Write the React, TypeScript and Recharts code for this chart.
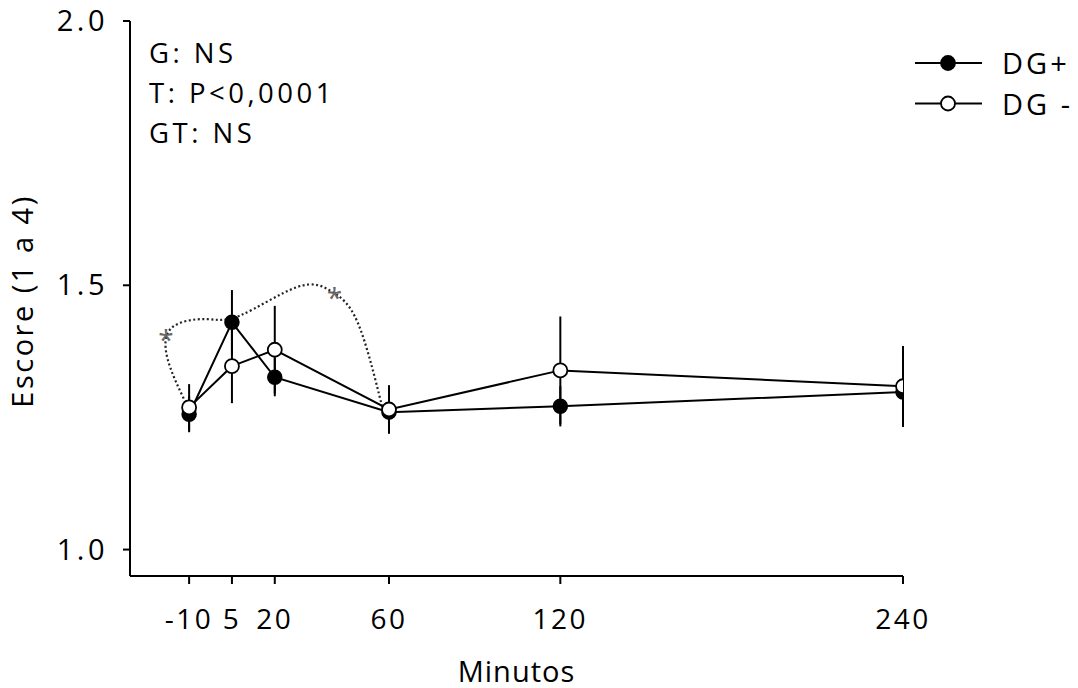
import React from 'react';
import {
  ComposedChart,
  Line,
  XAxis,
  YAxis,
  ErrorBar,
  ReferenceDot,
  Legend,
  Customized,
} from 'recharts';

// Sampling times (minutes) and mean scores with their standard errors
const minutes = [-10, 5, 20, 60, 120, 240];
const dgPlus = [1.256, 1.43, 1.326, 1.26, 1.271, 1.298];
const dgPlusErr = [0.034, 0.061, 0.036, 0.035, 0.038, 0.066];
const dgMinus = [1.269, 1.347, 1.378, 1.265, 1.339, 1.309];
const dgMinusErr = [0.044, 0.07, 0.083, 0.046, 0.102, 0.076];

// Axis ticks
const xTicks = [-10, 5, 20, 60, 120, 240];
const yTicks = [1.0, 1.5, 2.0];

// Dotted bracket joining the significant time points
const bracketX = [-11.2, -17.5, -16, -4, 8, 28, 40, 49, 57.8];
const bracketY = [1.278, 1.36, 1.42, 1.436, 1.443, 1.497, 1.488, 1.43, 1.266];

// Asterisks marking the significant differences
const starX = [-18.1, 40.9];
const starY = [1.41, 1.489];

// Statistics summary
const statsLines = ['G: NS', 'T: P<0,0001', 'GT: NS'];

const seriesOrder = ['dgPlus', 'dgMinus'];
const seriesNames: Record<string, string> = { dgPlus: 'DG+', dgMinus: 'DG -' };

const rows = minutes.map((m, i) => ({
  x: m,
  dgPlus: dgPlus[i],
  dgPlusErr: dgPlusErr[i],
  dgMinus: dgMinus[i],
  dgMinusErr: dgMinusErr[i],
}));

const bracket = bracketX.map((x, i) => ({ x, y: bracketY[i] }));

const FONT = '"Open Sans", "DejaVu Sans", sans-serif';

const XTick = (props: any) => {
  const { x, y, payload } = props;
  return (
    <text x={x} y={y + 45} textAnchor="middle" fontFamily={FONT} fontSize={28} letterSpacing={2.5} fill="#000">
      {payload.value}
    </text>
  );
};

const YTick = (props: any) => {
  const { x, y, payload } = props;
  return (
    <text x={x} y={y + 10} textAnchor="end" fontFamily={FONT} fontSize={29} letterSpacing={3.5} fill="#000">
      {Number(payload.value).toFixed(1)}
    </text>
  );
};

const FilledDot = (props: any) => {
  const { cx, cy } = props;
  if (cx == null || cy == null) return null;
  return <circle cx={cx} cy={cy} r={7} fill="#000" stroke="#000" strokeWidth={1.5} />;
};

const OpenDot = (props: any) => {
  const { cx, cy } = props;
  if (cx == null || cy == null) return null;
  return <circle cx={cx} cy={cy} r={7} fill="#fff" stroke="#000" strokeWidth={1.8} />;
};

const Star = (props: any) => {
  const { cx, cy } = props;
  return (
    <text x={cx} y={cy + 17} textAnchor="middle" fontFamily={FONT} fontSize={28} fill="#666">
      *
    </text>
  );
};

const LegendBox = (props: any) => {
  const items = seriesOrder
    .map((k) => (props.payload || []).find((p: any) => p.dataKey === k))
    .filter(Boolean);
  return (
    <svg width={178} height={90} style={{ display: 'block' }}>
      {items.map((it: any, i: number) => {
        const cy = 23 + i * 40.5;
        const filled = it.dataKey === 'dgPlus';
        return (
          <g key={it.dataKey}>
            <line x1={15} x2={82} y1={cy} y2={cy} stroke="#000" strokeWidth={2} />
            <circle cx={48} cy={cy} r={7} fill={filled ? '#000' : '#fff'} stroke="#000" strokeWidth={1.8} />
            <text x={102} y={cy + 11} fontFamily={FONT} fontSize={29} letterSpacing={3} fill="#000">
              {seriesNames[it.dataKey]}
            </text>
          </g>
        );
      })}
    </svg>
  );
};

const StatsText = (props: any) => {
  const off = props.offset || { left: 130, top: 21 };
  return (
    <g>
      {statsLines.map((s, i) => (
        <text key={s} x={off.left + 19} y={off.top + 42 + i * 40} fontFamily={FONT} fontSize={27.5} letterSpacing={3.5} fill="#000">
          {s}
        </text>
      ))}
    </g>
  );
};

export default function App() {
  return (
    <div style={{ position: 'absolute', left: 0, top: 0, background: '#fff' }}>
      <ComposedChart width={1078} height={688} data={rows} margin={{ top: 21, right: 175, bottom: 0, left: 0 }}>
        <XAxis
          type="number"
          dataKey="x"
          domain={[-30.7, 240]}
          ticks={xTicks}
          allowDataOverflow
          height={112}
          tickSize={8}
          tickMargin={0}
          axisLine={{ stroke: '#000', strokeWidth: 2 }}
          tickLine={{ stroke: '#000', strokeWidth: 2 }}
          tick={<XTick />}
          label={{
            content: (p: any) => {
              const vb = p.viewBox;
              return (
                <text x={vb.x + vb.width / 2} y={vb.y + 106} textAnchor="middle" fontFamily={FONT} fontSize={29} letterSpacing={1} fill="#000">
                  Minutos
                </text>
              );
            },
          }}
        />
        <YAxis
          type="number"
          domain={[0.95, 2.0]}
          ticks={yTicks}
          allowDataOverflow
          width={130}
          tickSize={7}
          tickMargin={15}
          axisLine={{ stroke: '#000', strokeWidth: 2 }}
          tickLine={{ stroke: '#000', strokeWidth: 2 }}
          tick={<YTick />}
          label={{
            content: () => {
              const cx = 33;
              const cy = 301;
              return (
                <text x={cx} y={cy} transform={`rotate(-90 ${cx} ${cy})`} textAnchor="middle" fontFamily={FONT} fontSize={29} letterSpacing={2.5} fill="#000">
                  Escore (1 a 4)
                </text>
              );
            },
          }}
        />
        <Line
          data={bracket}
          dataKey="y"
          type="natural"
          stroke="#222"
          strokeWidth={2.2}
          strokeDasharray="2 2.5"
          dot={false}
          activeDot={false}
          legendType="none"
          isAnimationActive={false}
        />
        <Line
          dataKey="dgPlus"
          name="DG+"
          type="linear"
          stroke="#000"
          strokeWidth={2}
          dot={<FilledDot />}
          activeDot={false}
          isAnimationActive={false}
        >
          <ErrorBar dataKey="dgPlusErr" direction="y" width={0} stroke="#000" strokeWidth={2} isAnimationActive={false} />
        </Line>
        <Line
          dataKey="dgMinus"
          name="DG -"
          type="linear"
          stroke="#000"
          strokeWidth={2}
          dot={<OpenDot />}
          activeDot={false}
          isAnimationActive={false}
        >
          <ErrorBar dataKey="dgMinusErr" direction="y" width={0} stroke="#000" strokeWidth={2} isAnimationActive={false} />
        </Line>
        {starX.map((sx, i) => (
          <ReferenceDot key={i} x={sx} y={starY[i]} r={0} shape={<Star />} ifOverflow="visible" />
        ))}
        <Customized component={StatsText} />
        <Legend
          layout="vertical"
          align="center"
          verticalAlign="middle"
          content={<LegendBox />}
          wrapperStyle={{ position: 'absolute', left: 900, top: 40, width: 178, height: 90 }}
        />
      </ComposedChart>
    </div>
  );
}
